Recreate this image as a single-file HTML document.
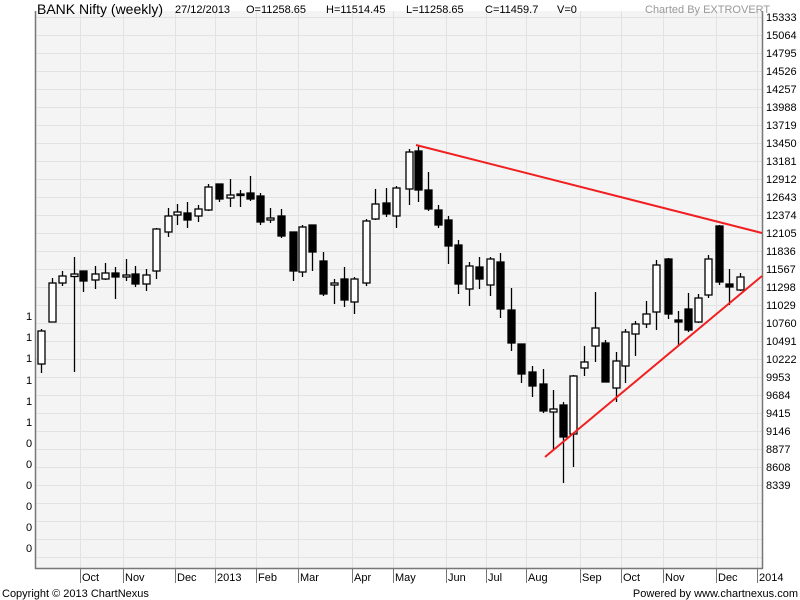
<!DOCTYPE html>
<html><head><meta charset="utf-8"><style>
html,body{margin:0;padding:0;background:#fff;}
svg{display:block;font-family:"Liberation Sans",sans-serif;}
</style></head><body>
<svg width="800" height="600" xmlns="http://www.w3.org/2000/svg">
<rect x="0" y="0" width="800" height="600" fill="#fff"/>
<rect x="35" y="11" width="727" height="557" fill="#f4f4f4"/>
<g stroke="#e2e2e2" stroke-width="1">
<line x1="35" x2="762" y1="17.5" y2="17.5"/><line x1="35" x2="762" y1="35.5" y2="35.5"/><line x1="35" x2="762" y1="53.5" y2="53.5"/><line x1="35" x2="762" y1="71.5" y2="71.5"/><line x1="35" x2="762" y1="89.5" y2="89.5"/><line x1="35" x2="762" y1="107.5" y2="107.5"/><line x1="35" x2="762" y1="125.5" y2="125.5"/><line x1="35" x2="762" y1="143.5" y2="143.5"/><line x1="35" x2="762" y1="161.5" y2="161.5"/><line x1="35" x2="762" y1="179.5" y2="179.5"/><line x1="35" x2="762" y1="197.5" y2="197.5"/><line x1="35" x2="762" y1="215.5" y2="215.5"/><line x1="35" x2="762" y1="233.5" y2="233.5"/><line x1="35" x2="762" y1="251.5" y2="251.5"/><line x1="35" x2="762" y1="269.5" y2="269.5"/><line x1="35" x2="762" y1="287.5" y2="287.5"/><line x1="35" x2="762" y1="305.5" y2="305.5"/><line x1="35" x2="762" y1="323.5" y2="323.5"/><line x1="35" x2="762" y1="341.5" y2="341.5"/><line x1="35" x2="762" y1="359.5" y2="359.5"/><line x1="35" x2="762" y1="377.5" y2="377.5"/><line x1="35" x2="762" y1="395.5" y2="395.5"/><line x1="35" x2="762" y1="413.5" y2="413.5"/><line x1="35" x2="762" y1="431.5" y2="431.5"/><line x1="35" x2="762" y1="449.5" y2="449.5"/><line x1="35" x2="762" y1="467.5" y2="467.5"/><line x1="35" x2="762" y1="485.5" y2="485.5"/><line x1="35" x2="762" y1="503.5" y2="503.5"/><line x1="35" x2="762" y1="521.5" y2="521.5"/><line x1="35" x2="762" y1="539.5" y2="539.5"/><line x1="35" x2="762" y1="557.5" y2="557.5"/>
<line x1="80.5" x2="80.5" y1="11" y2="568"/><line x1="123.5" x2="123.5" y1="11" y2="568"/><line x1="175.5" x2="175.5" y1="11" y2="568"/><line x1="215.5" x2="215.5" y1="11" y2="568"/><line x1="256.5" x2="256.5" y1="11" y2="568"/><line x1="298.5" x2="298.5" y1="11" y2="568"/><line x1="352.5" x2="352.5" y1="11" y2="568"/><line x1="393.5" x2="393.5" y1="11" y2="568"/><line x1="446.5" x2="446.5" y1="11" y2="568"/><line x1="486.5" x2="486.5" y1="11" y2="568"/><line x1="526.5" x2="526.5" y1="11" y2="568"/><line x1="580.5" x2="580.5" y1="11" y2="568"/><line x1="621.5" x2="621.5" y1="11" y2="568"/><line x1="663.5" x2="663.5" y1="11" y2="568"/><line x1="716.5" x2="716.5" y1="11" y2="568"/><line x1="757.5" x2="757.5" y1="11" y2="568"/>
</g>
<g stroke="#777" stroke-width="1.5" fill="none">
<line x1="35.5" y1="11" x2="35.5" y2="569"/>
<line x1="762.5" y1="11" x2="762.5" y2="569"/>
<line x1="35" y1="568.5" x2="763" y2="568.5"/>
</g>
<g stroke="#777" stroke-width="1">
<line x1="80.5" x2="80.5" y1="568" y2="583"/><line x1="123.5" x2="123.5" y1="568" y2="583"/><line x1="175.5" x2="175.5" y1="568" y2="583"/><line x1="215.5" x2="215.5" y1="568" y2="583"/><line x1="256.5" x2="256.5" y1="568" y2="583"/><line x1="298.5" x2="298.5" y1="568" y2="583"/><line x1="352.5" x2="352.5" y1="568" y2="583"/><line x1="393.5" x2="393.5" y1="568" y2="583"/><line x1="446.5" x2="446.5" y1="568" y2="583"/><line x1="486.5" x2="486.5" y1="568" y2="583"/><line x1="526.5" x2="526.5" y1="568" y2="583"/><line x1="580.5" x2="580.5" y1="568" y2="583"/><line x1="621.5" x2="621.5" y1="568" y2="583"/><line x1="663.5" x2="663.5" y1="568" y2="583"/><line x1="716.5" x2="716.5" y1="568" y2="583"/><line x1="757.5" x2="757.5" y1="568" y2="583"/>
</g>
<g font-size="11" fill="#000">
<text x="82" y="581">Oct</text><text x="125" y="581">Nov</text><text x="177" y="581">Dec</text><text x="217" y="581">2013</text><text x="258" y="581">Feb</text><text x="300" y="581">Mar</text><text x="354" y="581">Apr</text><text x="395" y="581">May</text><text x="448" y="581">Jun</text><text x="488" y="581">Jul</text><text x="528" y="581">Aug</text><text x="582" y="581">Sep</text><text x="623" y="581">Oct</text><text x="665" y="581">Nov</text><text x="718" y="581">Dec</text><text x="759" y="581">2014</text>
</g>
<g font-size="11" fill="#000">
<text x="766" y="21">15333</text><text x="766" y="39">15064</text><text x="766" y="57">14795</text><text x="766" y="75">14526</text><text x="766" y="93">14257</text><text x="766" y="111">13988</text><text x="766" y="129">13719</text><text x="766" y="147">13450</text><text x="766" y="165">13181</text><text x="766" y="183">12912</text><text x="766" y="201">12643</text><text x="766" y="219">12374</text><text x="766" y="237">12105</text><text x="766" y="255">11836</text><text x="766" y="273">11567</text><text x="766" y="291">11298</text><text x="766" y="309">11029</text><text x="766" y="327">10760</text><text x="766" y="345">10491</text><text x="766" y="363">10222</text><text x="766" y="381">9953</text><text x="766" y="399">9684</text><text x="766" y="417">9415</text><text x="766" y="435">9146</text><text x="766" y="453">8877</text><text x="766" y="471">8608</text><text x="766" y="489">8339</text>
</g>
<g font-size="11" fill="#000">
<text x="26" y="320">1</text><text x="26" y="341">1</text><text x="26" y="362">1</text><text x="26" y="384">1</text><text x="26" y="405">1</text><text x="26" y="426">1</text><text x="26" y="447">0</text><text x="26" y="468">0</text><text x="26" y="489">0</text><text x="26" y="510">0</text><text x="26" y="531">0</text><text x="26" y="552">0</text>
</g>
<text x="37" y="14" font-size="14" fill="#000">BANK Nifty (weekly)</text>
<g font-size="11" fill="#000">
<text x="175" y="13">27/12/2013</text><text x="246" y="13">O=11258.65</text><text x="326" y="13">H=11514.45</text><text x="406" y="13">L=11258.65</text><text x="485" y="13">C=11459.7</text><text x="557" y="13">V=0</text>
</g>
<text x="645" y="13" font-size="11" fill="#999">Charted By EXTROVERT</text>
<text x="2" y="597" font-size="11" fill="#000">Copyright © 2013 ChartNexus</text>
<text x="798" y="597" font-size="11" fill="#000" text-anchor="end">Powered by www.chartnexus.com</text>

<g stroke="#000" stroke-width="1.3">
<line x1="41.5" x2="41.5" y1="329" y2="373"/><line x1="52.5" x2="52.5" y1="278" y2="322"/><line x1="62.5" x2="62.5" y1="271" y2="286"/><line x1="74.5" x2="74.5" y1="257" y2="372"/><line x1="83.5" x2="83.5" y1="271" y2="292"/><line x1="95.5" x2="95.5" y1="266" y2="289"/><line x1="105.5" x2="105.5" y1="263" y2="280"/><line x1="115.5" x2="115.5" y1="267" y2="299"/><line x1="126.5" x2="126.5" y1="259" y2="281"/><line x1="135.5" x2="135.5" y1="266" y2="287"/><line x1="146.5" x2="146.5" y1="269" y2="291"/><line x1="156.5" x2="156.5" y1="228" y2="279"/><line x1="168.5" x2="168.5" y1="208" y2="237"/><line x1="177.5" x2="177.5" y1="204" y2="225"/><line x1="187.5" x2="187.5" y1="202" y2="228"/><line x1="198.5" x2="198.5" y1="205" y2="222"/><line x1="208.5" x2="208.5" y1="184" y2="211"/><line x1="219.5" x2="219.5" y1="184" y2="202"/><line x1="230.5" x2="230.5" y1="179" y2="207"/><line x1="240.5" x2="240.5" y1="190" y2="207"/><line x1="250.5" x2="250.5" y1="176" y2="201"/><line x1="260.5" x2="260.5" y1="193" y2="225"/><line x1="270.5" x2="270.5" y1="208" y2="223"/><line x1="281.5" x2="281.5" y1="209" y2="238"/><line x1="293.5" x2="293.5" y1="232" y2="281"/><line x1="302.5" x2="302.5" y1="225" y2="277"/><line x1="312.5" x2="312.5" y1="225" y2="271"/><line x1="323.5" x2="323.5" y1="252" y2="296"/><line x1="334.5" x2="334.5" y1="279" y2="304"/><line x1="344.5" x2="344.5" y1="267" y2="307"/><line x1="354.5" x2="354.5" y1="277" y2="314"/><line x1="366.5" x2="366.5" y1="219" y2="286"/><line x1="375.5" x2="375.5" y1="189" y2="220"/><line x1="386.5" x2="386.5" y1="188" y2="217"/><line x1="396.5" x2="396.5" y1="186" y2="228"/><line x1="409.5" x2="409.5" y1="149" y2="205"/><line x1="418.5" x2="418.5" y1="145" y2="202"/><line x1="428.5" x2="428.5" y1="172" y2="211"/><line x1="438.5" x2="438.5" y1="205" y2="228"/><line x1="448.5" x2="448.5" y1="216" y2="264"/><line x1="458.5" x2="458.5" y1="240" y2="294"/><line x1="469.5" x2="469.5" y1="262" y2="306"/><line x1="479.5" x2="479.5" y1="257" y2="289"/><line x1="490.5" x2="490.5" y1="257" y2="296"/><line x1="500.5" x2="500.5" y1="253" y2="318"/><line x1="511.5" x2="511.5" y1="288" y2="351"/><line x1="521.5" x2="521.5" y1="344" y2="383"/><line x1="532.5" x2="532.5" y1="366" y2="397"/><line x1="543.5" x2="543.5" y1="369" y2="413"/><line x1="553.5" x2="553.5" y1="390" y2="450"/><line x1="563.5" x2="563.5" y1="402" y2="483"/><line x1="573.5" x2="573.5" y1="375" y2="467"/><line x1="584.5" x2="584.5" y1="346" y2="376"/><line x1="595.5" x2="595.5" y1="292" y2="362"/><line x1="605.5" x2="605.5" y1="340" y2="382"/><line x1="616.5" x2="616.5" y1="352" y2="402"/><line x1="625.5" x2="625.5" y1="329" y2="383"/><line x1="635.5" x2="635.5" y1="321" y2="356"/><line x1="646.5" x2="646.5" y1="301" y2="328"/><line x1="656.5" x2="656.5" y1="260" y2="330"/><line x1="668.5" x2="668.5" y1="258" y2="319"/><line x1="678.5" x2="678.5" y1="311" y2="346"/><line x1="688.5" x2="688.5" y1="293" y2="332"/><line x1="698.5" x2="698.5" y1="294" y2="323"/><line x1="708.5" x2="708.5" y1="255" y2="298"/><line x1="719.5" x2="719.5" y1="225" y2="285"/><line x1="729.5" x2="729.5" y1="269" y2="305"/><line x1="740.5" x2="740.5" y1="273" y2="291"/>
</g>
<g stroke="#000" stroke-width="1.3">
<rect x="38" y="331" width="7" height="33" fill="#fff"/><rect x="49" y="283" width="7" height="39" fill="#fff"/><rect x="59" y="276" width="7" height="7" fill="#fff"/><rect x="71" y="274" width="7" height="2.5" fill="#fff"/><rect x="80" y="271" width="7" height="10" fill="#000"/><rect x="92" y="274" width="7" height="6" fill="#fff"/><rect x="102" y="273" width="7" height="6" fill="#fff"/><rect x="112" y="273" width="7" height="4" fill="#000"/><rect x="123" y="275" width="7" height="2" fill="#fff"/><rect x="132" y="274" width="7" height="10" fill="#000"/><rect x="143" y="275" width="7" height="9" fill="#fff"/><rect x="153" y="229" width="7" height="42" fill="#fff"/><rect x="165" y="216" width="7" height="16" fill="#fff"/><rect x="174" y="212" width="7" height="3" fill="#fff"/><rect x="184" y="213" width="7" height="7" fill="#000"/><rect x="195" y="209" width="7" height="7" fill="#fff"/><rect x="205" y="187" width="7" height="23" fill="#fff"/><rect x="216" y="184" width="7" height="15" fill="#000"/><rect x="227" y="195" width="7" height="3" fill="#fff"/><rect x="237" y="194" width="7" height="1.5" fill="#000"/><rect x="247" y="193" width="7" height="6" fill="#000"/><rect x="257" y="196" width="7" height="26" fill="#000"/><rect x="267" y="218" width="7" height="2" fill="#fff"/><rect x="278" y="216" width="7" height="20" fill="#000"/><rect x="290" y="232" width="7" height="39" fill="#000"/><rect x="299" y="227" width="7" height="45" fill="#fff"/><rect x="309" y="225" width="7" height="27" fill="#000"/><rect x="320" y="261" width="7" height="33" fill="#000"/><rect x="331" y="283" width="7" height="2" fill="#fff"/><rect x="341" y="279" width="7" height="21" fill="#000"/><rect x="351" y="279" width="7" height="23" fill="#fff"/><rect x="363" y="221" width="7" height="62" fill="#fff"/><rect x="372" y="204" width="7" height="15" fill="#fff"/><rect x="383" y="203" width="7" height="11" fill="#000"/><rect x="393" y="188" width="7" height="28" fill="#fff"/><rect x="406" y="152" width="7" height="37" fill="#fff"/><rect x="415" y="151" width="7" height="39" fill="#000"/><rect x="425" y="190" width="7" height="19" fill="#000"/><rect x="435" y="210" width="7" height="15" fill="#000"/><rect x="445" y="220" width="7" height="26" fill="#000"/><rect x="455" y="245" width="7" height="39" fill="#000"/><rect x="466" y="266" width="7" height="23" fill="#fff"/><rect x="476" y="267" width="7" height="12" fill="#000"/><rect x="487" y="259" width="7" height="26" fill="#fff"/><rect x="497" y="262" width="7" height="47" fill="#000"/><rect x="508" y="310" width="7" height="33" fill="#000"/><rect x="518" y="344" width="7" height="30" fill="#000"/><rect x="529" y="372" width="7" height="14" fill="#000"/><rect x="540" y="384" width="7" height="27" fill="#000"/><rect x="550" y="409" width="7" height="3" fill="#fff"/><rect x="560" y="405" width="7" height="32" fill="#000"/><rect x="570" y="376" width="7" height="58" fill="#fff"/><rect x="581" y="362" width="7" height="6" fill="#fff"/><rect x="592" y="328" width="7" height="18" fill="#fff"/><rect x="602" y="343" width="7" height="39" fill="#000"/><rect x="613" y="361" width="7" height="27" fill="#fff"/><rect x="622" y="332" width="7" height="34" fill="#fff"/><rect x="632" y="324" width="7" height="10" fill="#fff"/><rect x="643" y="314" width="7" height="10" fill="#fff"/><rect x="653" y="265" width="7" height="47" fill="#fff"/><rect x="665" y="259" width="7" height="55" fill="#000"/><rect x="675" y="320" width="7" height="2" fill="#000"/><rect x="685" y="309" width="7" height="21" fill="#000"/><rect x="695" y="298" width="7" height="24" fill="#fff"/><rect x="705" y="259" width="7" height="36" fill="#fff"/><rect x="716" y="226" width="7" height="56" fill="#000"/><rect x="726" y="284" width="7" height="3" fill="#000"/><rect x="737" y="277" width="7" height="13" fill="#fff"/>
</g>
<g stroke="#f02020" stroke-width="2">
<line x1="416" y1="145" x2="762" y2="233"/>
<line x1="545" y1="457" x2="762" y2="276"/>
</g>
</svg>
</body></html>
